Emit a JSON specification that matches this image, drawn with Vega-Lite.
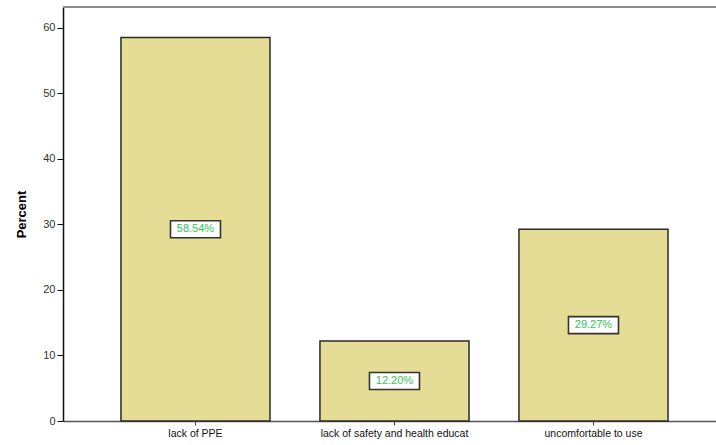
{
  "$schema": "https://vega.github.io/schema/vega-lite/v6.json",
  "width": 653,
  "height": 414,
  "autosize": {"type": "none"},
  "padding": {"left": 63, "top": 7, "right": 0, "bottom": 24},
  "background": "white",
  "config": {
    "view": {"stroke": null},
    "font": "Liberation Sans"
  },
  "data": {
    "values": [
      {"reason": "lack of PPE", "pct": 58.54, "label": "58.54%"},
      {"reason": "lack of safety and health educat", "pct": 12.20, "label": "12.20%"},
      {"reason": "uncomfortable to use", "pct": 29.27, "label": "29.27%"}
    ]
  },
  "encoding": {
    "x": {
      "field": "reason",
      "type": "nominal",
      "sort": null,
      "scale": {"paddingInner": 0.251, "paddingOuter": 0.2662, "align": 0.547},
      "axis": {
        "title": null,
        "labelAngle": 0,
        "labelFontSize": 10.5,
        "labelColor": "#111",
        "labelPadding": 3,
        "tickSize": 4,
        "tickColor": "#444",
        "domainColor": "#555",
        "domainWidth": 1.5
      }
    }
  },
  "layer": [
    {
      "mark": {"type": "rule", "color": "#8a8a8a", "strokeWidth": 1.5},
      "encoding": {
        "x": {"value": 0},
        "x2": {"value": "width"},
        "y": {"datum": 63.2, "type": "quantitative", "scale": {"domain": [0, 63.2], "nice": false, "zero": true}, "axis": null}
      }
    },
    {
      "mark": {"type": "bar", "fill": "#e5dd96", "stroke": "#2a2a2a", "strokeWidth": 1.5},
      "encoding": {
        "y": {
          "field": "pct",
          "type": "quantitative",
          "scale": {"domain": [0, 63.2], "nice": false, "zero": true},
          "axis": {
            "title": "Percent",
            "titleFontSize": 13,
            "titleFontWeight": "bold",
            "titleColor": "#000",
            "titlePadding": 14,
            "values": [0, 10, 20, 30, 40, 50, 60],
            "grid": false,
            "labelFontSize": 11,
            "labelColor": "#333",
            "tickSize": 6,
            "tickColor": "#111",
            "domainColor": "#111",
            "domainWidth": 1.5,
            "labelPadding": 2
          }
        }
      }
    },
    {
      "encoding": {
        "y": {
          "field": "pct",
          "type": "quantitative",
          "scale": {"domain": [0, 126.4], "nice": false, "zero": true},
          "axis": null
        }
      },
      "layer": [
        {
          "mark": {"type": "point", "shape": "M-1,-0.34H1V0.34H-1Z", "size": 2500, "filled": true, "fill": "white", "stroke": "#333", "strokeWidth": 1.6, "opacity": 1}
        },
        {
          "mark": {"type": "text", "color": "#2fc556", "fontSize": 11, "baseline": "middle", "align": "center"},
          "encoding": {"text": {"field": "label", "type": "nominal"}}
        }
      ]
    }
  ],
  "resolve": {"scale": {"y": "independent"}}
}
